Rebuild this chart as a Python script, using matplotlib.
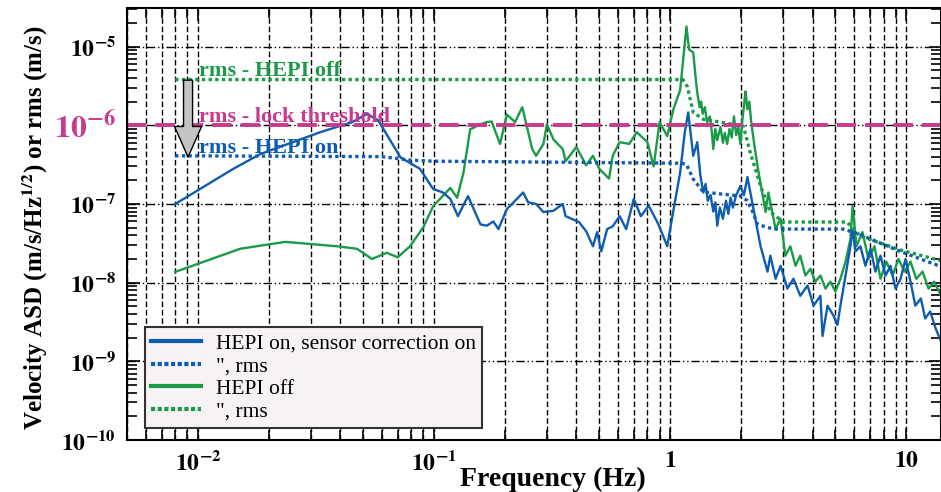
import numpy as np
import matplotlib
matplotlib.use("Agg")
import matplotlib.pyplot as plt
from matplotlib.ticker import FixedLocator, LogLocator, NullFormatter
from matplotlib.lines import Line2D

plt.rcParams['mathtext.fontset'] = 'stix'
plt.rcParams['font.family'] = ['Liberation Serif', 'DejaVu Serif']

BLUE = '#0f5db0'
GREEN = '#1b9a4a'
MAGENTA = '#c73a8e'

# HEPI on, sensor correction on (ASD)
blue_f = [0.008, 0.0141, 0.0183, 0.033, 0.045, 0.052, 0.058, 0.072, 0.087, 0.099,
          0.109, 0.117, 0.126, 0.139, 0.157, 0.167, 0.178, 0.187, 0.203, 0.22,
          0.238, 0.25, 0.27, 0.29, 0.32, 0.35, 0.36, 0.41, 0.44, 0.47,
          0.49, 0.51, 0.54, 0.57, 0.61, 0.65, 0.70, 0.75, 0.81, 0.88,
          0.93, 0.97, 1.02, 1.1, 1.15, 1.19, 1.25, 1.3, 1.34, 1.38,
          1.41, 1.44, 1.48, 1.52, 1.55, 1.58, 1.62, 1.67, 1.72, 1.76,
          1.8, 1.84, 1.9, 1.98, 2.05, 2.12, 2.18, 2.29, 2.41, 2.58,
          2.65, 2.79, 2.93, 3.13, 3.32, 3.55, 3.81, 4.04, 4.32, 4.41,
          4.63, 4.91, 5.10, 5.25, 5.52, 5.79, 5.91, 6.08, 6.38, 6.70,
          7.04, 7.39, 7.76, 8.15, 8.56, 8.98, 9.44, 9.91, 10.4, 10.9,
          11.5, 12.0, 12.6, 13.3, 14.0]
blue_v = [1.0e-7, 2.8e-7, 4.3e-7, 8.2e-7, 1.1e-6, 1.4e-6, 1.15e-6, 3.9e-7, 2.8e-7, 1.55e-7,
          1.4e-7, 1.16e-7, 7.0e-8, 1.26e-7, 5.5e-8, 5.3e-8, 6.0e-8, 4.8e-8, 8.6e-8, 1.1e-7,
          1.4e-7, 1.05e-7, 1.0e-7, 7.9e-8, 8.2e-8, 1.0e-7, 7.0e-8, 5.9e-8, 4.5e-8, 2.9e-8,
          4.4e-8, 2.5e-8, 4.8e-8, 5.2e-8, 7.0e-8, 4.8e-8, 1.16e-7, 7.0e-8, 9.5e-8, 5.9e-8,
          4.0e-8, 2.9e-8, 7.0e-8, 2.5e-7, 8.0e-7, 1.46e-6, 4.1e-7, 6.1e-7, 2.3e-7, 1.4e-7,
          1.8e-7, 1.1e-7, 1.3e-7, 8.0e-8, 1.05e-7, 5.3e-8, 9.0e-8, 6.5e-8, 1.1e-7, 7.5e-8,
          1.2e-7, 9.0e-8, 1.3e-7, 1.69e-7, 1.3e-7, 2.2e-7, 1.42e-7, 6.5e-8, 2.9e-8, 1.38e-8,
          2.2e-8, 1.12e-8, 1.64e-8, 8.4e-9, 1.12e-8, 6.8e-9, 9.2e-9, 5.1e-9, 6.8e-9, 2.1e-9,
          5.1e-9, 3.8e-9, 2.9e-9, 5.1e-9, 1.23e-8, 2.9e-8, 4.8e-8, 2.5e-8, 2.9e-8, 1.64e-8,
          2.7e-8, 1.38e-8, 2.2e-8, 1.23e-8, 1.64e-8, 8.4e-9, 1.12e-8, 2.0e-8, 1.03e-8, 5.1e-9,
          6.3e-9, 3.5e-9, 4.3e-9, 2.6e-9, 1.8e-9]

# HEPI off (ASD)
green_f = [0.008, 0.0151, 0.0234, 0.0388, 0.047, 0.0545, 0.063, 0.070, 0.079, 0.090,
           0.099, 0.117, 0.125, 0.133, 0.142, 0.157, 0.167, 0.175, 0.19, 0.203,
           0.22, 0.236, 0.26, 0.27, 0.29, 0.30, 0.32, 0.35, 0.36, 0.40,
           0.44, 0.47, 0.50, 0.55, 0.57, 0.61, 0.67, 0.72, 0.80, 0.85,
           0.90, 0.97, 1.03, 1.1, 1.17, 1.2, 1.25, 1.28, 1.3, 1.33,
           1.35, 1.37, 1.4, 1.43, 1.47, 1.5, 1.52, 1.55, 1.58, 1.63,
           1.67, 1.7, 1.74, 1.78, 1.82, 1.86, 1.9, 1.94, 1.98, 2.02,
           2.06, 2.08, 2.12, 2.16, 2.2, 2.27, 2.35, 2.53, 2.6,
           2.79, 2.93, 3.07, 3.22, 3.39, 3.55, 3.73, 3.92, 4.11, 4.32,
           4.54, 4.76, 5.00, 5.25, 5.52, 5.79, 5.91, 6.14, 6.51, 6.90,
           7.32, 7.76, 8.22, 8.73, 9.25, 9.81, 10.4, 11.0, 11.7, 12.4,
           13.1, 14.0]
green_v = [1.37e-8, 2.7e-8, 3.3e-8, 2.9e-8, 2.7e-8, 2.0e-8, 2.4e-8, 2.1e-8, 2.9e-8, 5.1e-8,
           9.4e-8, 1.6e-7, 1.2e-7, 2.5e-7, 8.9e-7, 1.03e-6, 1.1e-6, 1.12e-6, 5.8e-7, 1.37e-6,
           1.1e-6, 1.7e-6, 5.0e-7, 4.1e-7, 5.8e-7, 1.03e-6, 6.6e-7, 5.0e-7, 3.5e-7, 5.3e-7,
           3.1e-7, 4.1e-7, 2.8e-7, 2.1e-7, 4.1e-7, 6.1e-7, 5.8e-7, 8.2e-7, 6.1e-7, 3.0e-7,
           1.1e-6, 7.3e-7, 1.6e-6, 2.8e-6, 1.8e-5, 9.2e-6, 8.4e-6, 4.0e-6, 2.6e-6, 1.7e-6,
           2.0e-6, 1.4e-6, 1.7e-6, 1.1e-6, 1.3e-6, 8.0e-7, 5.0e-7, 9.0e-7, 6.5e-7, 9.5e-7,
           6.0e-7, 8.0e-7, 5.8e-7, 9.0e-7, 7.0e-7, 1.3e-6, 7.5e-7, 9.5e-7, 5.8e-7, 1.2e-6,
           2.0e-6, 2.7e-6, 1.6e-6, 2.0e-6, 1.1e-6, 5.5e-7, 2.8e-7, 7.9e-8, 1.4e-7,
           4.8e-8, 6.5e-8, 2.2e-8, 2.9e-8, 1.64e-8, 2.2e-8, 1.23e-8, 1.5e-8, 1.03e-8, 1.23e-8,
           8.4e-9, 1.03e-8, 7.7e-9, 1.12e-8, 1.85e-8, 3.6e-8, 9.4e-8, 2.9e-8, 4.4e-8, 2.0e-8,
           2.9e-8, 1.12e-8, 1.85e-8, 1.23e-8, 2.0e-8, 1.38e-8, 1.85e-8, 1.12e-8, 1.38e-8, 8.4e-9,
           1.03e-8, 6.8e-9]

# cumulative rms curves
blue_rms_f = [0.008, 0.06, 0.08, 0.1, 1.1, 1.17, 1.25, 1.38, 1.98, 2.12, 2.23, 2.34, 2.73, 5.4, 6.2, 9.4, 14.0]
blue_rms_v = [4.1e-7, 4.0e-7, 3.6e-7, 3.5e-7, 3.3e-7, 3.2e-7, 2.07e-7, 1.42e-7, 1.26e-7, 1.1e-7, 8.0e-8, 5.5e-8, 4.8e-8, 4.8e-8, 4.2e-8, 2.5e-8, 1.6e-8]
green_rms_f = [0.008, 1.13, 1.18, 1.25, 1.38, 1.63, 2.04, 2.18, 2.41, 2.65, 3.01, 5.6, 6.38, 9.44, 14.0]
green_rms_v = [3.82e-6, 3.82e-6, 3.1e-6, 1.46e-6, 1.19e-6, 1.1e-6, 9.7e-7, 4.5e-7, 1.7e-7, 7.9e-8, 5.9e-8, 5.9e-8, 3.9e-8, 2.6e-8, 1.9e-8]

lock_threshold = 1e-6

y_ticks = [1e-10, 1e-9, 1e-8, 1e-7, 1e-6, 1e-5]
y_labels = [r'$\mathbf{10^{-10}}$', r'$\mathbf{10^{-9}}$', r'$\mathbf{10^{-8}}$',
            r'$\mathbf{10^{-7}}$', r'$\mathbf{10^{-6}}$', r'$\mathbf{10^{-5}}$']
x_ticks = [0.01, 0.1, 1, 10]
x_labels = [r'$\mathbf{10^{-2}}$', r'$\mathbf{10^{-1}}$', r'$\mathbf{1}$', r'$\mathbf{10}$']

fig = plt.figure(figsize=(9.41, 4.92), dpi=100)
ax = fig.add_axes([127/941, 52/492, 814/941, 432/492])

ax.plot(green_f, green_v, color=GREEN, lw=1.7)
ax.plot(blue_f, blue_v, color=BLUE, lw=1.7)
ax.plot(green_rms_f, green_rms_v, color=GREEN, lw=2.4, ls=(0, (1, 1)))
ax.plot(blue_rms_f, blue_rms_v, color=BLUE, lw=2.4, ls=(0, (1, 1)))
ax.axhline(lock_threshold, color=MAGENTA, lw=2.8, ls=(0, (5, 2.3)))

ax.set_xscale('log')
ax.set_yscale('log')
ax.set_xlim(0.005, 14)
ax.set_ylim(1e-10, 3.1e-5)

ax.yaxis.set_major_locator(FixedLocator(y_ticks))
ax.set_yticklabels(y_labels)
ax.yaxis.set_minor_locator(LogLocator(base=10, subs=np.arange(2, 10)))
ax.yaxis.set_minor_formatter(NullFormatter())
ax.xaxis.set_major_locator(FixedLocator(x_ticks))
ax.set_xticklabels(x_labels)
ax.xaxis.set_minor_locator(LogLocator(base=10, subs=np.arange(2, 10)))
ax.xaxis.set_minor_formatter(NullFormatter())

ax.tick_params(which='both', direction='in', top=True, right=True, width=1.2, colors='black')
ax.tick_params(which='major', length=9, labelsize=17, pad=8)
ax.tick_params(which='minor', length=7)
for lab in ax.get_yticklabels():
    if lab.get_text() == y_labels[4]:
        lab.set_color(MAGENTA)
        lab.set_fontsize(23)

ax.grid(True, which='both', axis='x', color='black', lw=1.0, ls=(0, (4, 2)))
ax.grid(True, which='major', axis='y', color='black', lw=1.0, ls=(0, (6, 2, 1, 2, 1, 2)))
for s in ax.spines.values():
    s.set_linewidth(1.5)

fig.text(553/941, 1 - 479/492, 'Frequency (Hz)', ha='center', va='center',
         fontsize=20, fontweight='bold')
fig.text(35/941, 1 - 228/492, r'Velocity ASD (m/s/Hz$^{\mathbf{1/2}}$) or rms (m/s)',
         rotation=90, ha='center', va='center', fontsize=18, fontweight='bold')

# labels on the rms levels
ax.text(0.0101, 4.2e-6, 'rms - HEPI off', color=GREEN, fontsize=16, fontweight='bold', va='baseline')
ax.text(0.0101, 1.1e-6, 'rms - lock threshold', color=MAGENTA, fontsize=16, fontweight='bold', va='baseline')
ax.text(0.0101, 4.5e-7, 'rms - HEPI on', color=BLUE, fontsize=16, fontweight='bold', va='baseline')

ax.annotate('', xy=(0.075, 0.655), xytext=(0.075, 0.833), xycoords='axes fraction',
            arrowprops=dict(arrowstyle='simple,head_length=2.2,head_width=1.95,tail_width=0.65',
                            mutation_scale=10, fc='#c4c4c4', ec='black', lw=1.0,
                            shrinkA=0, shrinkB=0))

handles = [Line2D([], [], color=BLUE, lw=3),
           Line2D([], [], color=BLUE, lw=3, ls=(0, (1, 0.6))),
           Line2D([], [], color=GREEN, lw=3),
           Line2D([], [], color=GREEN, lw=3, ls=(0, (1, 0.6)))]
labels = ['HEPI on, sensor correction on', '", rms', 'HEPI off', '", rms']
leg = ax.legend(handles, labels, loc='lower left', bbox_to_anchor=(0.022, 0.028),
                borderaxespad=0, fancybox=False, framealpha=1, facecolor='#f6f2f6',
                edgecolor='#333333', fontsize=15.5, handlelength=2.3, labelspacing=0.12,
                borderpad=0.3, handletextpad=0.7)
leg.get_frame().set_linewidth(1.5)

fig.savefig('out.png', dpi=100)
